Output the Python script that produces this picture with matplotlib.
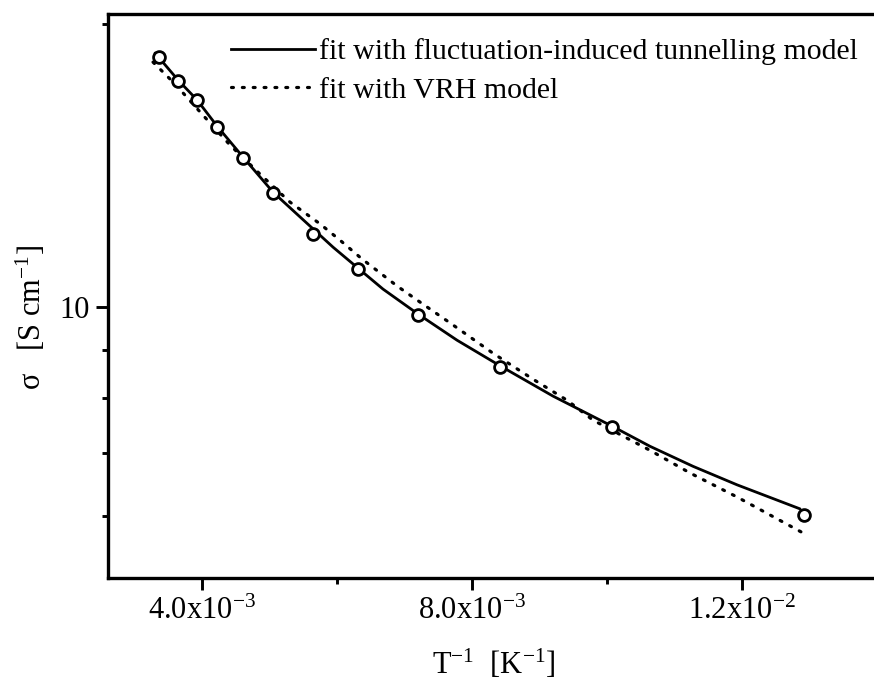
import matplotlib
matplotlib.use("Agg")
import matplotlib.pyplot as plt
from matplotlib.lines import Line2D
from matplotlib.ticker import FixedLocator, FixedFormatter, NullFormatter

plt.rcParams['font.family'] = ['Liberation Serif', 'DejaVu Serif']
plt.rcParams['mathtext.fontset'] = 'custom'
plt.rcParams['mathtext.rm'] = 'Liberation Serif'
plt.rcParams['mathtext.it'] = 'Liberation Serif:italic'

# measured conductivity vs inverse temperature
inv_T = [3.363e-3, 3.644e-3, 3.926e-3, 4.222e-3, 4.607e-3, 5.052e-3,
         5.644e-3, 6.311e-3, 7.200e-3, 8.415e-3, 10.074e-3, 12.919e-3]
sigma = [18.45, 17.40, 16.59, 15.56, 14.40, 13.22,
         11.96, 10.97, 9.81, 8.64, 7.45, 6.01]

# fluctuation-induced tunnelling fit
fit_x = [3.304e-3, 3.644e-3, 3.926e-3, 4.222e-3, 4.607e-3, 5.052e-3, 5.452e-3,
         5.941e-3, 6.311e-3, 6.681e-3, 7.200e-3, 7.778e-3, 8.415e-3, 9.200e-3,
         10.074e-3, 10.637e-3, 11.274e-3, 11.926e-3, 12.859e-3]
fit_y = [18.63, 17.44, 16.61, 15.58, 14.44, 13.25, 12.47,
         11.58, 11.00, 10.45, 9.83, 9.22, 8.66, 8.04,
         7.47, 7.11, 6.77, 6.47, 6.10]

# variable range hopping fit
vrh_x = [3.274e-3, 3.600e-3, 3.970e-3, 4.415e-3, 4.859e-3, 5.304e-3, 5.748e-3,
         6.044e-3, 6.370e-3, 6.889e-3, 7.274e-3, 7.674e-3, 8.311e-3, 8.904e-3,
         9.407e-3, 9.793e-3, 10.637e-3, 11.230e-3, 11.926e-3, 12.904e-3]
vrh_y = [18.22, 17.27, 16.13, 14.87, 13.85, 12.93, 12.26,
         11.78, 11.25, 10.53, 10.07, 9.62, 8.93, 8.38,
         7.96, 7.58, 7.04, 6.66, 6.28, 5.75]

x_major = [4.0e-3, 8.0e-3, 1.2e-2]
x_major_labels = [r'4.0x10$^{-3}$', r'8.0x10$^{-3}$', r'1.2x10$^{-2}$']
x_minor = [6.0e-3, 1.0e-2]
y_major = [10]
y_major_labels = ['10']
y_minor = [6, 7, 8, 9, 20]

W, H = 874, 686
fig = plt.figure(figsize=(W / 100, H / 100), dpi=100)
left, bottom, top = 108, 578, 14
ax = fig.add_axes([left / W, (H - bottom) / H, 0.89, (bottom - top) / H])

lw = 2.0
dots = (0, (0.6, 2.8))
ax.plot(fit_x, fit_y, color='black', lw=lw, solid_capstyle='round')
ax.plot(vrh_x, vrh_y, color='black', lw=2.3, linestyle=dots,
        dash_capstyle='round')
ax.plot(inv_T, sigma, linestyle='none', marker='o', markersize=8.5,
        markerfacecolor='white', markeredgecolor='black', markeredgewidth=2.0)

ax.set_yscale('log')
ax.set_xlim(2.607e-3, 14.13e-3)
ax.set_ylim(5.15, 20.5)

ax.xaxis.set_major_locator(FixedLocator(x_major))
ax.xaxis.set_major_formatter(FixedFormatter(x_major_labels))
ax.xaxis.set_minor_locator(FixedLocator(x_minor))
ax.xaxis.set_minor_formatter(NullFormatter())
ax.yaxis.set_major_locator(FixedLocator(y_major))
ax.yaxis.set_major_formatter(FixedFormatter(y_major_labels))
ax.yaxis.set_minor_locator(FixedLocator(y_minor))
ax.yaxis.set_minor_formatter(NullFormatter())

for s in ax.spines.values():
    s.set_linewidth(2.4)
ax.spines['right'].set_visible(False)
ax.tick_params(which='major', direction='out', length=8.5, width=2.1,
               labelsize=22, pad=5)
ax.tick_params(which='minor', direction='out', length=4.5, width=2.1)
ax.tick_params(top=False, right=False, which='both')

fig.text(31 / W, 1 - 318 / H, r'σ   [S cm$^{-1}$]', rotation=90,
         ha='center', va='center', fontsize=22)
fig.text(494 / W, 1 - 664 / H, r'T$^{-1}$  [K$^{-1}$]',
         ha='center', va='center', fontsize=22)

handles = [Line2D([], [], color='black', lw=lw),
           Line2D([], [], color='black', lw=2.3, linestyle=dots,
                  dash_capstyle='round')]
ax.legend(handles, ['fit with fluctuation-induced tunnelling model',
                    'fit with VRH model'],
          loc='upper left', bbox_to_anchor=(231 / W, 1 - 38 / H),
          bbox_transform=fig.transFigure, frameon=False, fontsize=21.5,
          handlelength=2.8, handletextpad=0.15, labelspacing=0.4,
          borderpad=0, borderaxespad=0)

fig.savefig('out.png', dpi=100)
